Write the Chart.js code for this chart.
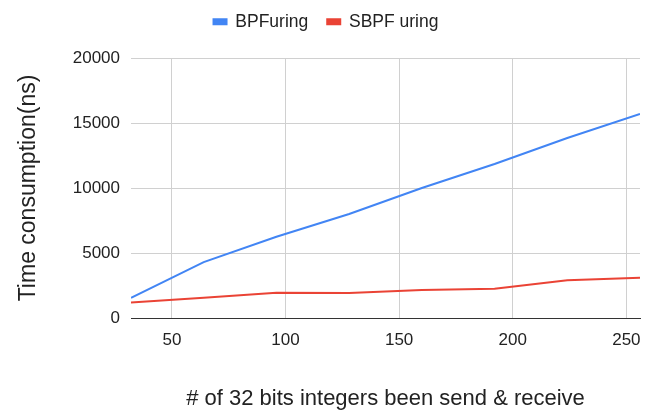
<!DOCTYPE html>
<html>
<head>
<meta charset="utf-8">
<script src="https://cdn.jsdelivr.net/npm/chart.js@4.4.0/dist/chart.umd.min.js"></script>
<style>
  html, body { margin: 0; padding: 0; background: #fff; }
  #wrap { width: 656px; height: 419px; }
</style>
</head>
<body>
<div id="wrap"><canvas id="chart" width="656" height="419"></canvas></div>
<script>
const SIZES = [32, 64, 96, 128, 160, 192, 224, 256];
const BPFURING = [1550, 4300, 6250, 8000, 10000, 11850, 13850, 15700];
const SBPF_URING = [1200, 1550, 1950, 1930, 2150, 2250, 2900, 3100];
const SERIES_NAMES = ['BPFuring', 'SBPF uring'];
const Y_TICKS = [0, 5000, 10000, 15000, 20000];

const FONT = "'Liberation Sans', Arial, sans-serif";

function toPoints(xs, ys) {
  return xs.map((x, i) => ({x: x, y: ys[i]}));
}

// force legend height so the plot starts where the reference does,
// and nudge it right (chart.js counts the trailing padding when centering)
const legendHeight = {
  id: 'legendHeight',
  beforeInit(chart) {
    const fit = chart.legend.fit;
    chart.legend.fit = function() {
      fit.bind(chart.legend)();
      this.height = 64;
    };
  },
  afterLayout(chart) {
    chart.legend.left += 6;
    chart.legend.right += 6;
  }
};

const config = {
  type: 'line',
  data: {
    datasets: [
      {
        label: SERIES_NAMES[0],
        data: toPoints(SIZES, BPFURING),
        borderColor: '#4285F4',
        backgroundColor: '#4285F4',
        borderWidth: 2,
        pointRadius: 0,
        tension: 0
      },
      {
        label: SERIES_NAMES[1],
        data: toPoints(SIZES, SBPF_URING),
        borderColor: '#EA4335',
        backgroundColor: '#EA4335',
        borderWidth: 2,
        pointRadius: 0,
        tension: 0
      }
    ]
  },
  options: {
    responsive: false,
    animation: false,
    layout: { padding: { left: 0, right: 16, top: -6, bottom: 0 } },
    plugins: {
      legend: {
        display: true,
        position: 'top',
        labels: {
          boxWidth: 13,
          boxHeight: 5,
          padding: 19,
          color: '#222',
          font: { family: FONT, size: 17.5 }
        }
      },
      tooltip: { enabled: false }
    },
    scales: {
      x: {
        type: 'linear',
        min: 32,
        max: 256,
        afterFit(scale) { scale.height = 101; },
        ticks: {
          stepSize: 50,
          includeBounds: false,
          padding: 12,
          color: '#222',
          font: { family: FONT, size: 17 },
          maxRotation: 0
        },
        grid: { color: '#d0d0d0', drawTicks: false },
        border: { color: '#333', width: 1 },
        title: {
          display: true,
          text: '# of 32 bits integers been send & receive',
          color: '#222',
          font: { family: FONT, size: 22 },
          padding: { top: 0, bottom: 7 }
        }
      },
      y: {
        min: 0,
        max: 20000,
        afterFit(scale) { scale.width = 131; },
        afterBuildTicks(scale) { scale.ticks = Y_TICKS.map(v => ({value: v})); },
        ticks: {
          padding: 11,
          color: '#222',
          font: { family: FONT, size: 17 },
          callback: v => String(v)
        },
        grid: { color: '#d0d0d0', drawTicks: false },
        border: { display: false },
        title: {
          display: true,
          text: 'Time consumption(ns)',
          color: '#222',
          font: { family: FONT, size: 23 },
          padding: { top: 15, bottom: 0 }
        }
      }
    }
  },
  plugins: [legendHeight]
};

new Chart(document.getElementById('chart').getContext('2d'), config);
</script>
</body>
</html>
